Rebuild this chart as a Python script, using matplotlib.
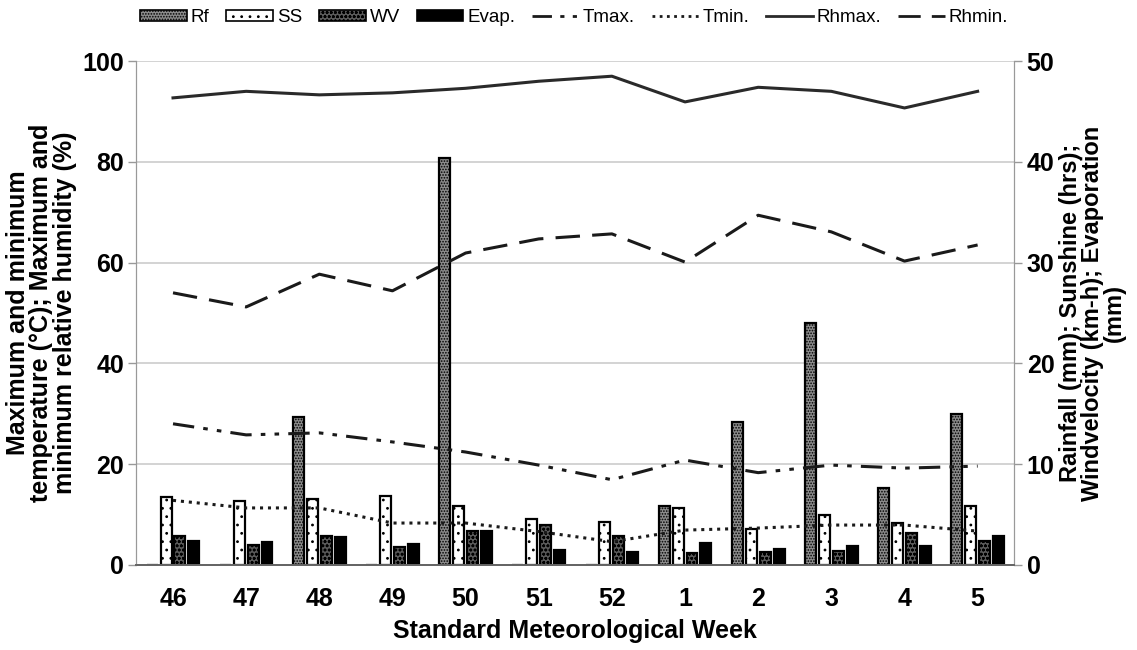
"""Weekly weather: bars (rainfall, sunshine, wind, evaporation) on the right
axis, temperature and humidity lines on the left axis."""
import matplotlib.pyplot as plt
from matplotlib.lines import Line2D
from matplotlib.patches import Patch
import numpy as np

plt.rcParams["hatch.linewidth"] = 0.8

FONT = ["Liberation Sans", "DejaVu Sans"]

weeks = ["46", "47", "48", "49", "50", "51", "52", "1", "2", "3", "4", "5"]

# right axis
rainfall = [0, 0, 14.7, 0, 40.4, 0, 0, 5.8, 14.2, 24.0, 7.6, 15.0]
sunshine = [6.7, 6.3, 6.5, 6.8, 5.8, 4.6, 4.3, 5.6, 3.6, 4.9, 4.2, 5.8]
wind = [2.9, 2.0, 2.9, 1.8, 3.4, 4.0, 2.9, 1.2, 1.3, 1.4, 3.2, 2.4]
evap = [2.4, 2.3, 2.8, 2.1, 3.4, 1.5, 1.3, 2.2, 1.6, 1.9, 1.9, 2.9]

# left axis
tmax = [28.0, 25.8, 26.2, 24.4, 22.4, 19.8, 16.9, 20.8, 18.3, 19.8, 19.2, 19.6]
tmin = [12.8, 11.3, 11.3, 8.3, 8.3, 6.6, 4.6, 6.9, 7.3, 7.9, 7.9, 6.7]
rhmax = [92.7, 94.0, 93.3, 93.7, 94.6, 96.0, 97.0, 91.9, 94.8, 94.0, 90.7, 94.0]
rhmin = [54.0, 51.2, 57.7, 54.4, 61.9, 64.7, 65.7, 60.1, 69.4, 66.1, 60.3, 63.5]

x = np.arange(len(weeks))

fig = plt.figure(figsize=(11.37, 6.5), dpi=100)
ax = fig.add_axes([0.12, 0.131, 0.772, 0.775])
ax2 = ax.twinx()

# bars on the right-hand scale
step, w = 0.19, 0.15
bar_specs = [
    (rainfall, "#8c8c8c", "......", "Rf"),
    (sunshine, "white", "..", "SS"),
    (wind, "#5a5a5a", "oooo", "WV"),
    (evap, "black", None, "Evap."),
]
for i, (vals, fc, hatch, lab) in enumerate(bar_specs):
    ax.bar(x + (i - 1.5) * step, vals, width=w, facecolor=fc, hatch=hatch,
           edgecolor="black", linewidth=1.6, zorder=3)

ax.set_ylim(0, 50)
ax.set_xlim(-0.5, len(weeks) - 0.5)
ax.yaxis.tick_right()
ax.yaxis.set_label_position("right")
ax.set_yticks(range(0, 51, 10))
ax.grid(axis="y", color="#cccccc", lw=1.2, zorder=0)
ax.set_axisbelow(True)

# lines on the left-hand scale
ax2.plot(x, tmax, color="#1a1a1a", lw=2.2, dashes=(7, 3, 1.5, 3, 1.5, 3))
ax2.plot(x, tmin, color="#1a1a1a", lw=2.2, dashes=(1, 1.6))
ax2.plot(x, rhmax, color="#2a2a2a", lw=2.2)
ax2.plot(x, rhmin, color="#1a1a1a", lw=2.2, dashes=(8, 4))
ax2.set_ylim(0, 100)
ax2.yaxis.tick_left()
ax2.yaxis.set_label_position("left")
ax2.set_yticks(range(0, 101, 20))

for a in (ax, ax2):
    a.spines["top"].set_visible(False)
    a.spines["left"].set_color("#999999")
    a.spines["right"].set_color("#999999")
    a.spines["bottom"].set_color("#666666")
    a.spines["bottom"].set_linewidth(1.4)
    a.tick_params(axis="y", colors="#999999", length=6, width=1,
                  labelcolor="black", labelsize=18, pad=3)
    for t in a.get_yticklabels():
        t.set_family(FONT)
        t.set_fontweight("bold")

ax.set_xticks(x)
ax.set_xticklabels(weeks, family=FONT, fontweight="bold", fontsize=18)
ax.tick_params(axis="x", length=0, pad=16)

ax.set_xlabel("Standard Meteorological Week", family=FONT,
              fontweight="bold", fontsize=18, labelpad=6)
ax2.set_ylabel("Maximum and minimum\ntemperature (°C); Maximum and\n"
               "minimum relative humidity (%)", family=FONT,
               fontweight="bold", fontsize=18, linespacing=0.97, labelpad=4)
ax.set_ylabel("Rainfall (mm); Sunshine (hrs);\nWindvelocity (km-h); Evaporation\n(mm)",
              family=FONT, fontweight="bold", fontsize=17, linespacing=0.95,
              rotation=90, labelpad=3)

handles = [Patch(facecolor=fc, hatch=h, edgecolor="black", lw=1.2, label=lab)
           for _, fc, h, lab in bar_specs]
handles += [
    Line2D([], [], color="#1a1a1a", lw=2, dashes=(7, 3, 1.5, 3, 1.5, 3), label="Tmax."),
    Line2D([], [], color="#1a1a1a", lw=2, dashes=(1, 1.6), label="Tmin."),
    Line2D([], [], color="#2a2a2a", lw=2, label="Rhmax."),
    Line2D([], [], color="#1a1a1a", lw=2, dashes=(8, 4), label="Rhmin."),
]
fig.legend(handles=handles, loc="upper center", bbox_to_anchor=(0.505, 1.012),
           ncol=8, frameon=False, handlelength=2.5, handleheight=0.6,
           handletextpad=0.2, columnspacing=0.9,
           prop={"family": FONT, "size": 13.5})

fig.savefig("out.png", dpi=100)
